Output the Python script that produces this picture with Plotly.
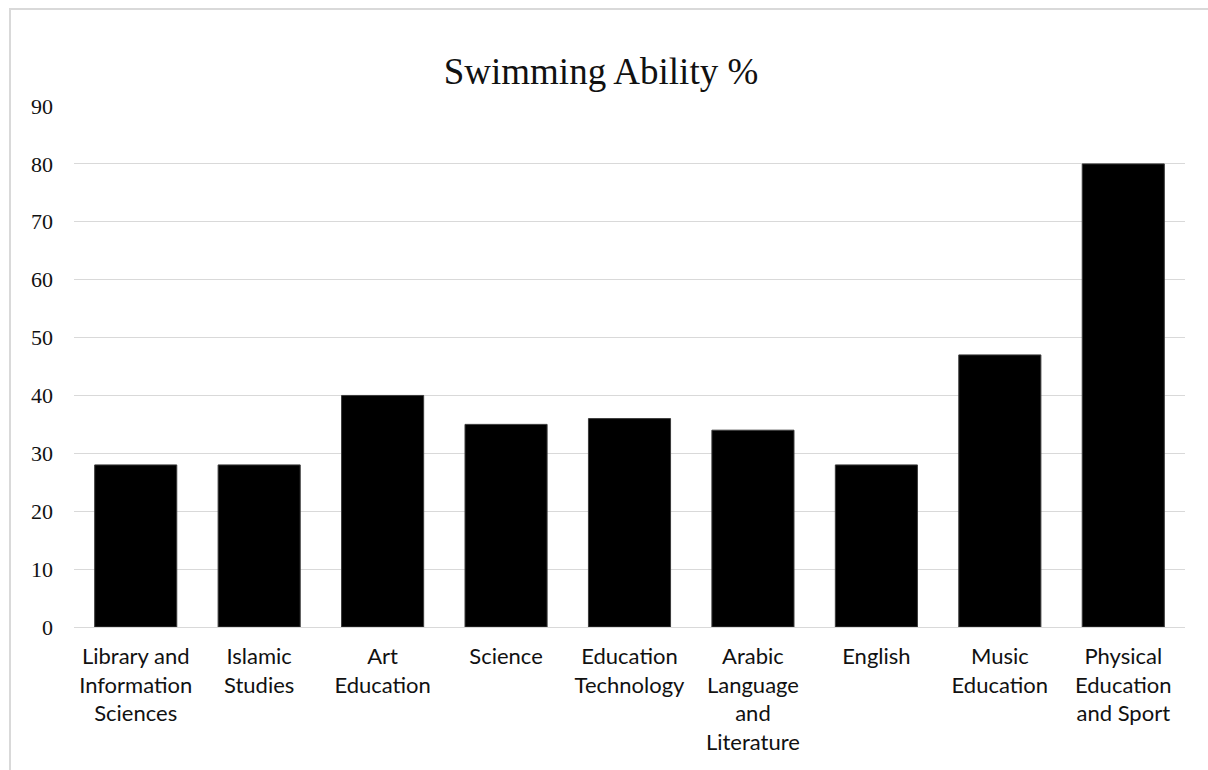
import plotly.graph_objects as go

categories = [
    "Library and<br>Information<br>Sciences",
    "Islamic<br>Studies",
    "Art<br>Education",
    "Science",
    "Education<br>Technology",
    "Arabic<br>Language<br>and<br>Literature",
    "English",
    "Music<br>Education",
    "Physical<br>Education<br>and Sport",
]
values = [28, 28, 40, 35, 36, 34, 28, 47, 80]
y_ticks = [0, 10, 20, 30, 40, 50, 60, 70, 80, 90]

W, H = 1208, 770
L, R, T, B = 74, 23, 106, 143

fig = go.Figure(go.Bar(
    x=categories, y=values,
    marker=dict(color="#000000", line=dict(color="#3a3a3a", width=1)),
))

pw = W - L - R
ph = H - T - B
fig.add_shape(type="rect", xref="paper", yref="paper",
              x0=(10 - L) / pw, x1=(W + 10 - L) / pw,
              y0=(H - B - (H + 10)) / ph, y1=(H - B - 9) / ph,
              line=dict(color="#d9d9d9", width=2), fillcolor="rgba(0,0,0,0)", layer="below")

fig.update_layout(
    width=W, height=H,
    margin=dict(l=L, r=R, t=T, b=B, autoexpand=False),
    paper_bgcolor="white", plot_bgcolor="white",
    bargap=0.335,
    showlegend=False,
    title=dict(text="Swimming Ability %", x=601 / W, xref="container", xanchor="center",
               y=1 - 71 / H, yanchor="middle", yref="container",
               font=dict(family="Liberation Serif", size=37, color="#111111")),
    xaxis=dict(showgrid=False, showline=False, ticks="", zeroline=False,
               tickfont=dict(family="Lato", size=22, color="#111111"),
               tickangle=0, ticklabelstandoff=14),
    yaxis=dict(range=[0, 90], tickvals=y_ticks, showgrid=True, gridcolor="#d9d9d9", gridwidth=1,
               zeroline=True, zerolinecolor="#d9d9d9", zerolinewidth=1, showline=False, ticks="",
               tickfont=dict(family="Liberation Serif", size=22, color="#111111"),
               ticklabelstandoff=20),
)

fig.write_html("out.html")
